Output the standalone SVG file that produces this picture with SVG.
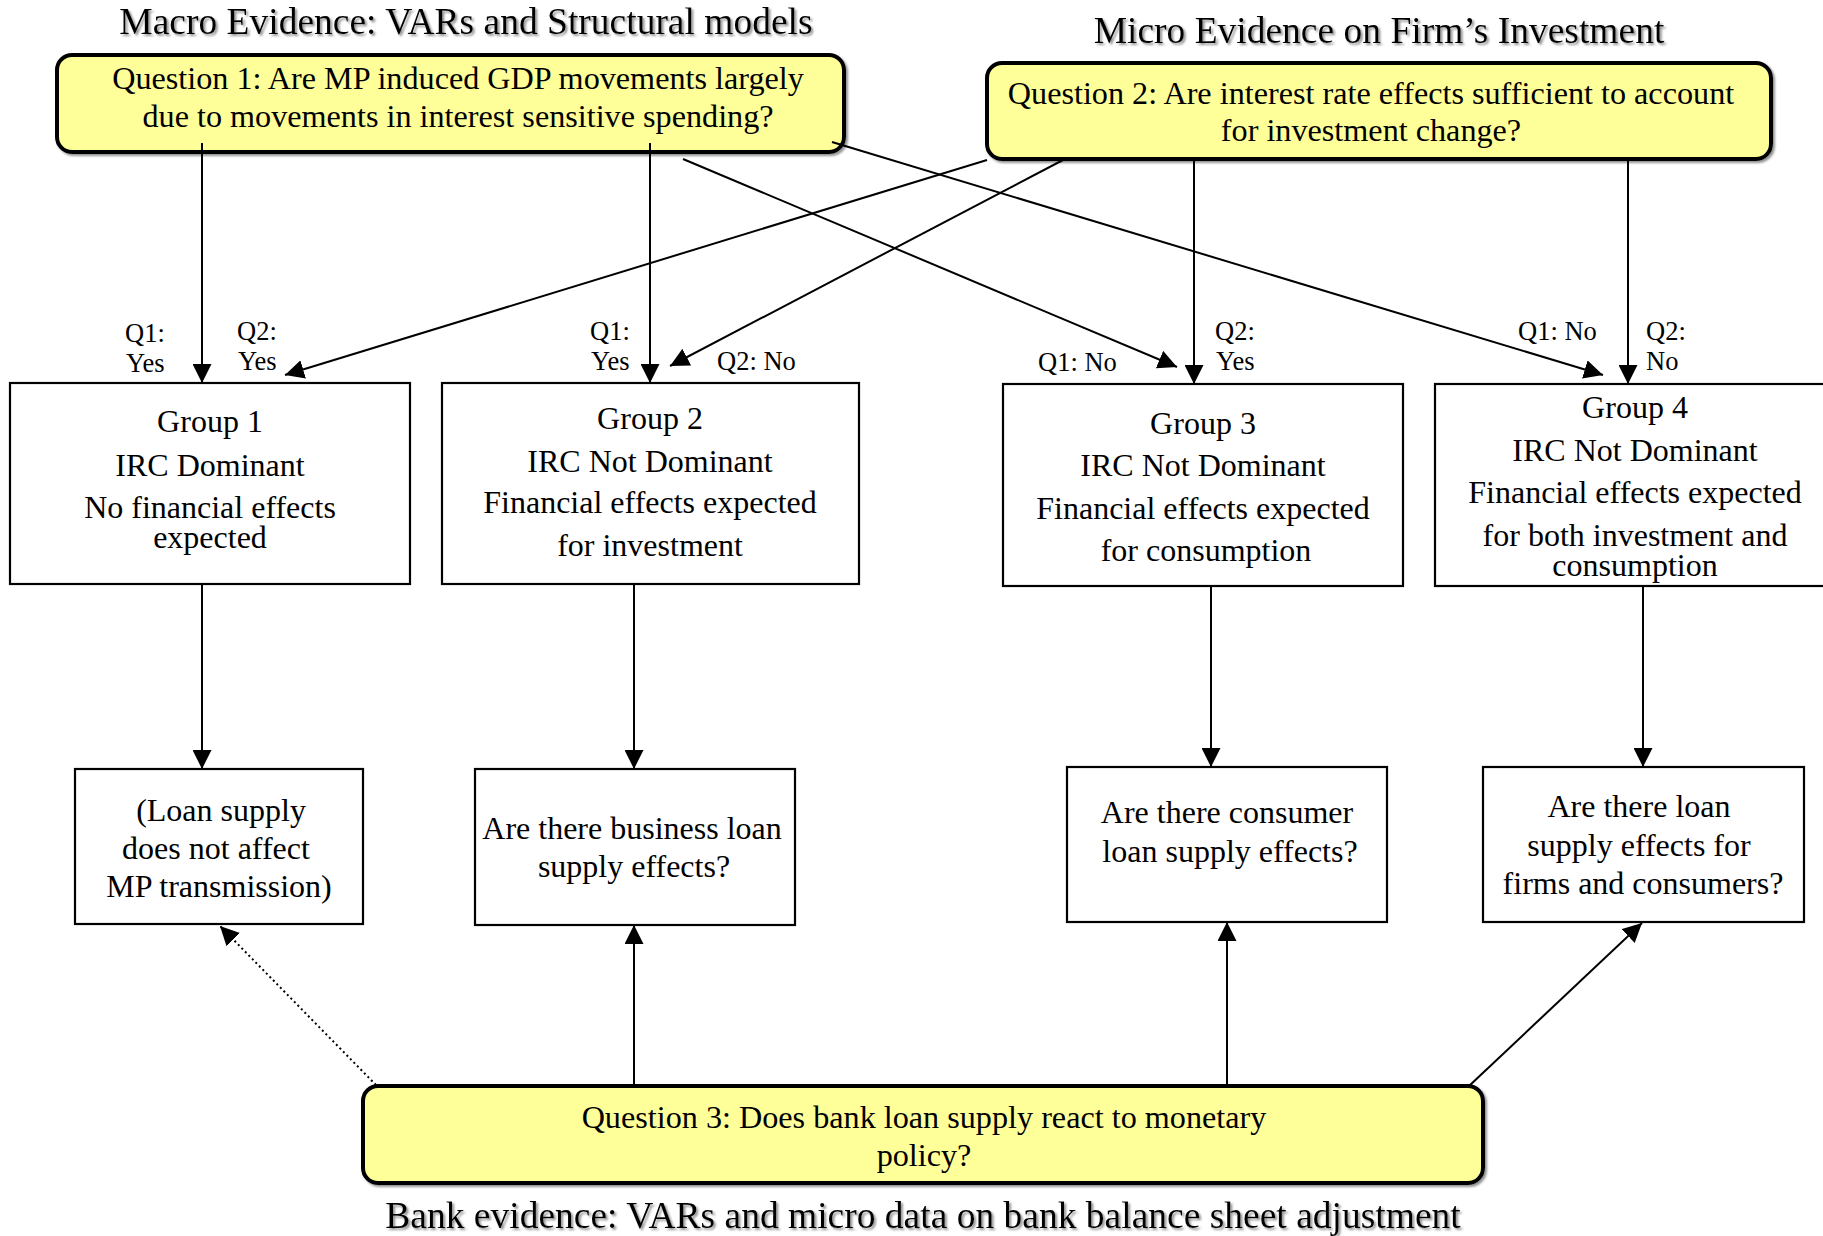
<svg xmlns="http://www.w3.org/2000/svg" width="1823" height="1236" viewBox="0 0 1823 1236">
<defs>
<style>
text{font-family:"Liberation Serif","Times New Roman",serif;fill:#000}
.title{font-size:37.5px;text-anchor:middle}
.q{font-size:32.2px;text-anchor:middle}
.t{font-size:32px;text-anchor:middle}
.lab{font-size:26.5px}
.qbox{fill:#FFFF99;stroke:#000;stroke-width:4}
.box{fill:#fff;stroke:#000;stroke-width:2.2}
.conn{stroke:#000;stroke-width:2;fill:none;marker-end:url(#ah)}
.dot{stroke:#000;stroke-width:2;fill:none;stroke-dasharray:2 3;marker-end:url(#ah)}
</style>
<marker id="ah" viewBox="0 0 19 19" markerWidth="19" markerHeight="19" refX="19" refY="9.5" orient="auto" markerUnits="userSpaceOnUse">
<path d="M0,0 L19,9.5 L0,19 z" fill="#000"/>
</marker>
<filter id="sh" x="-5%" y="-10%" width="110%" height="130%">
<feDropShadow dx="2" dy="2" stdDeviation="0.8" flood-color="#777" flood-opacity="0.8"/>
</filter>
</defs>

<g id="title-macro" filter="url(#sh)"><text class="title" x="466" y="34">Macro Evidence: VARs and Structural models</text></g>
<g id="title-micro" filter="url(#sh)"><text class="title" x="1379" y="43">Micro Evidence on Firm’s Investment</text></g>
<g id="title-bank" filter="url(#sh)"><text class="title" x="923" y="1228">Bank evidence: VARs and micro data on bank balance sheet adjustment</text></g>

<g id="q1">
<rect class="qbox" x="57" y="55" width="787" height="97" rx="15" filter="url(#sh)"/>
<text class="q" x="458" y="89">Question 1: Are MP induced GDP movements largely</text>
<text class="q" x="458" y="127">due to movements in interest sensitive spending?</text>
</g>
<g id="q2">
<rect class="qbox" x="987" y="63" width="784" height="96" rx="15" filter="url(#sh)"/>
<text class="q" x="1371" y="104">Question 2: Are interest rate effects sufficient to account</text>
<text class="q" x="1371" y="141">for investment change?</text>
</g>
<g id="q3">
<rect class="qbox" x="363" y="1086" width="1120" height="97" rx="15" filter="url(#sh)"/>
<text class="q" x="924" y="1128">Question 3: Does bank loan supply react to monetary</text>
<text class="q" x="924" y="1166">policy?</text>
</g>

<g id="group1">
<rect class="box" x="10" y="383" width="400" height="201"/>
<text class="t" x="210" y="432">Group 1</text>
<text class="t" x="210" y="476">IRC Dominant</text>
<text class="t" x="210" y="518">No financial effects</text>
<text class="t" x="210" y="548">expected</text>
</g>
<g id="group2">
<rect class="box" x="442" y="383" width="417" height="201"/>
<text class="t" x="650" y="429">Group 2</text>
<text class="t" x="650" y="472">IRC Not Dominant</text>
<text class="t" x="650" y="513">Financial effects expected</text>
<text class="t" x="650" y="556">for investment</text>
</g>
<g id="group3">
<rect class="box" x="1003" y="384" width="400" height="202"/>
<text class="t" x="1203" y="434">Group 3</text>
<text class="t" x="1203" y="476">IRC Not Dominant</text>
<text class="t" x="1203" y="519">Financial effects expected</text>
<text class="t" x="1206" y="561">for consumption</text>
</g>
<g id="group4">
<rect class="box" x="1435" y="384" width="392" height="202"/>
<text class="t" x="1635" y="418">Group 4</text>
<text class="t" x="1635" y="461">IRC Not Dominant</text>
<text class="t" x="1635" y="503">Financial effects expected</text>
<text class="t" x="1635" y="546">for both investment and</text>
<text class="t" x="1635" y="576">consumption</text>
</g>

<g id="loan1">
<rect class="box" x="75" y="769" width="288" height="155"/>
<text class="t" x="221" y="821">(Loan supply</text>
<text class="t" x="216" y="859">does not affect</text>
<text class="t" x="219" y="897">MP transmission)</text>
</g>
<g id="loan2">
<rect class="box" x="475" y="769" width="320" height="156"/>
<text class="t" x="632" y="839">Are there business loan</text>
<text class="t" x="634" y="877">supply effects?</text>
</g>
<g id="loan3">
<rect class="box" x="1067" y="767" width="320" height="155"/>
<text class="t" x="1227" y="823">Are there consumer</text>
<text class="t" x="1230" y="862">loan supply effects?</text>
</g>
<g id="loan4">
<rect class="box" x="1483" y="767" width="321" height="155"/>
<text class="t" x="1639" y="817">Are there loan</text>
<text class="t" x="1639" y="856">supply effects for</text>
<text class="t" x="1643" y="894">firms and consumers?</text>
</g>

<g id="labels">
<text class="lab" x="125" y="342">Q1:</text>
<text class="lab" x="126" y="372">Yes</text>
<text class="lab" x="237" y="340">Q2:</text>
<text class="lab" x="238" y="370">Yes</text>
<text class="lab" x="590" y="340">Q1:</text>
<text class="lab" x="591" y="370">Yes</text>
<text class="lab" x="717" y="370">Q2: No</text>
<text class="lab" x="1038" y="371">Q1: No</text>
<text class="lab" x="1215" y="340">Q2:</text>
<text class="lab" x="1216" y="370">Yes</text>
<text class="lab" x="1518" y="340">Q1: No</text>
<text class="lab" x="1646" y="340">Q2:</text>
<text class="lab" x="1646" y="370">No</text>
</g>

<g id="connectors">
<line class="conn" x1="202" y1="143" x2="202" y2="383"/>
<line class="conn" x1="650" y1="143" x2="650" y2="383"/>
<line class="conn" x1="683" y1="159" x2="1177" y2="367"/>
<line class="conn" x1="832" y1="142" x2="1603" y2="375"/>
<line class="conn" x1="987" y1="160" x2="285" y2="375"/>
<line class="conn" x1="1063" y1="160" x2="670" y2="366"/>
<line class="conn" x1="1194" y1="159" x2="1194" y2="384"/>
<line class="conn" x1="1628" y1="159" x2="1628" y2="384"/>
<line class="conn" x1="202" y1="584" x2="202" y2="769"/>
<line class="conn" x1="634" y1="584" x2="634" y2="769"/>
<line class="conn" x1="1211" y1="586" x2="1211" y2="767"/>
<line class="conn" x1="1643" y1="586" x2="1643" y2="767"/>
<line class="dot" x1="376" y1="1085" x2="220" y2="926"/>
<line class="conn" x1="634" y1="1086" x2="634" y2="925"/>
<line class="conn" x1="1227" y1="1086" x2="1227" y2="922"/>
<line class="conn" x1="1469" y1="1086" x2="1642" y2="923"/>
</g>
</svg>
